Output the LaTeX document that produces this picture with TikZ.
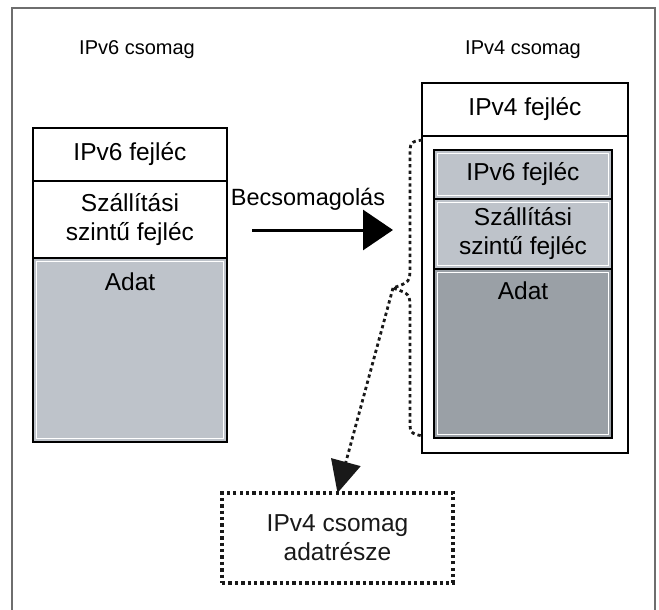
\documentclass[tikz,border=0pt]{standalone}
\usepackage{fontspec}
\setmainfont{Liberation Sans}
\usetikzlibrary{arrows.meta}
\definecolor{lgray}{HTML}{BEC3CA}
\definecolor{dgray}{HTML}{9AA0A6}
\definecolor{framegray}{HTML}{6E6E6E}
\begin{document}
\begin{tikzpicture}[x=1pt,y=-1pt,
  every node/.style={font=\fontsize{24.5}{29}\selectfont, inner sep=0pt, outer sep=0pt},
  cell/.style={draw=black, line width=2.6pt, align=center},
  graycell/.style={cell, fill=#1,
    path picture={\draw[white,line width=1.2pt]
      ([shift={(3.2pt,3.2pt)}]path picture bounding box.south west) rectangle
      ([shift={(-3.2pt,-3.2pt)}]path picture bounding box.north east);}},
  title/.style={font=\fontsize{20}{24}\selectfont},
  dotline/.style={line width=3.2pt, dash pattern=on 3.3pt off 3.1pt, black!90},
  adatlabel/.style={label={[anchor=north,yshift=-#1]north:Adat}}
]
\useasboundingbox (0,0) rectangle (659,610);
% frame
\draw[framegray, line width=1.5pt] (12,610) -- (12,8) -- (655,8) -- (655,610);

% titles
\node[title] (t6) at (137,50) {IPv6 csomag};
\node[title] (t4) at (523,50) {IPv4 csomag};

% left stack (IPv6 packet)
\node[cell, minimum width=194pt, minimum height=53pt] (l1) at (130,154.5) {IPv6 fejléc};
\node[cell, minimum width=194pt, minimum height=77pt] (l2) at (130,219.5) {Szállítási\\szintű fejléc};
\node[graycell=lgray, minimum width=194pt, minimum height=184pt, adatlabel=15pt] (l3) at (130,350) {};

% right stack (IPv4 packet)
\node[cell, minimum width=206pt, minimum height=370pt] (r0) at (525,268) {};
\node[cell, minimum width=206pt, minimum height=53pt] (r1) at (525,109.5) {IPv4 fejléc};
\node[graycell=lgray, minimum width=178pt, minimum height=49pt] (i1) at (523,174.5) {IPv6 fejléc};
\node[graycell=lgray, minimum width=178pt, minimum height=70pt] (i2) at (523,234) {Szállítási\\szintű fejléc};
\node[graycell=dgray, minimum width=178pt, minimum height=169pt, adatlabel=13pt] (i3) at (523,353.5) {};

% encapsulation arrow
\coordinate (as) at (252,230);
\coordinate (ae) at (393,230);
\draw[line width=3pt, -{Triangle[length=30pt,width=40pt]}] (as) -- (ae);
\node[font=\fontsize{23.5}{28}\selectfont] (becs) at (308,199) {Becsomagolás};

% dotted brace
\coordinate (bt) at (422,140);
\coordinate (bb) at (422,436);
\coordinate (tip) at (393,288);
\draw[dotline, line width=2.8pt] (bt) .. controls (410,142) .. (410,158) -- (410,266)
  .. controls (410,282) .. (tip) .. controls (410,294) .. (410,310) -- (410,420)
  .. controls (410,433) .. (bb);

% bottom dotted box
\node[draw, dotline, minimum width=231pt, minimum height=90pt, align=center] (bx) at (337.5,538) {IPv4 csomag\\adatrésze};

% dotted arrow
\draw[dotline, line width=2.8pt, -{Triangle[length=32pt,width=30pt]}] (tip) -- (bx.north);
\end{tikzpicture}
\end{document}
